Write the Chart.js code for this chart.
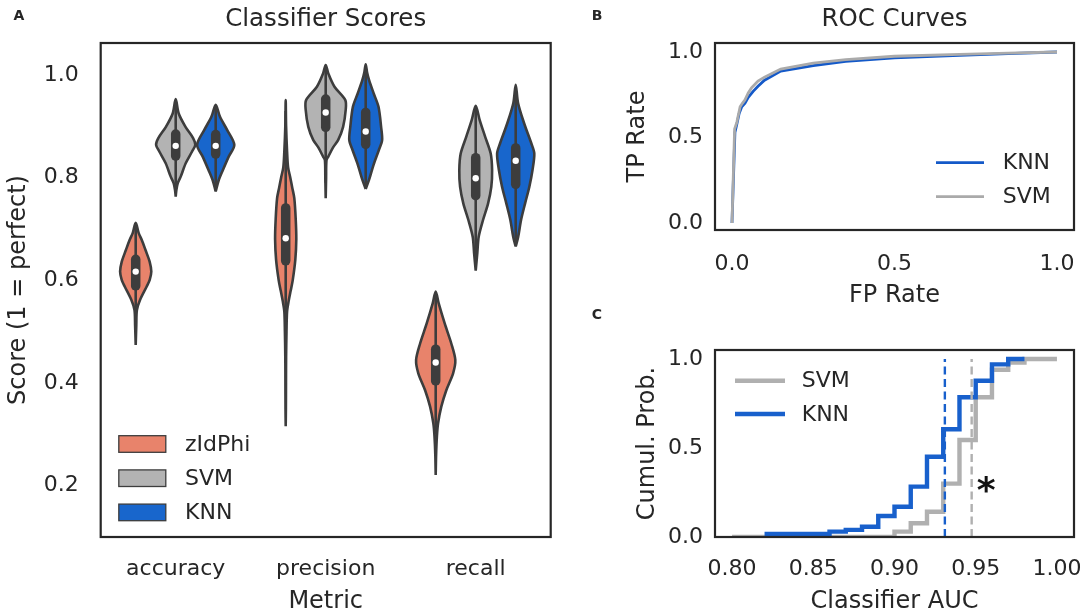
<!DOCTYPE html>
<html>
<head>
<meta charset="utf-8">
<script src="https://cdn.jsdelivr.net/npm/chart.js@4.4.1/dist/chart.umd.min.js"></script>
<style>
  html, body { margin: 0; padding: 0; background: #fff; }
  #wrap { position: relative; width: 1084px; height: 614px; }
  #wrap canvas { position: absolute; left: 0; top: 0; }
</style>
</head>
<body>
<div id="wrap">
  <canvas id="violinChart" width="1084" height="614"></canvas>
  <canvas id="rocChart" width="1084" height="614"></canvas>
  <canvas id="cdfChart" width="1084" height="614"></canvas>
</div>
<script>
/* ---------------- DATA ---------------- */

const metrics = ["accuracy", "precision", "recall"];
const classifiers = ["zIdPhi", "SVM", "KNN"];
const scoreTicks = [0.2, 0.4, 0.6, 0.8, 1.0];

// violin outlines: score levels and relative density (1 = widest violin)
const accZidScore = [0.474, 0.513, 0.542, 0.562, 0.588, 0.601, 0.617, 0.636, 0.659, 0.679, 0.692, 0.712];
const accZidDens  = [0, 0.03, 0.06, 0.22, 0.55, 0.70, 0.78, 0.70, 0.49, 0.30, 0.15, 0];
const accSvmScore = [0.763, 0.775, 0.789, 0.802, 0.828, 0.851, 0.864, 0.877, 0.899, 0.925, 0.953];
const accSvmDens  = [0, 0.03, 0.10, 0.25, 0.50, 0.82, 0.98, 0.87, 0.49, 0.15, 0];
const accKnnScore = [0.773, 0.795, 0.815, 0.841, 0.864, 0.893, 0.919, 0.942];
const accKnnDens  = [0, 0.15, 0.36, 0.65, 0.93, 0.57, 0.21, 0];

const preZidScore = [0.316, 0.35, 0.40, 0.45, 0.50, 0.54, 0.56, 0.58, 0.60, 0.64, 0.68, 0.72, 0.76, 0.78, 0.80, 0.82, 0.85, 0.90, 0.951];
const preZidDens  = [0, 0.01, 0.015, 0.02, 0.04, 0.07, 0.15, 0.25, 0.35, 0.48, 0.53, 0.50, 0.43, 0.33, 0.23, 0.12, 0.07, 0.02, 0];
const preSvmScore = [0.760, 0.80, 0.834, 0.841, 0.859, 0.873, 0.899, 0.932, 0.951, 0.977, 1.003, 1.0195];
const preSvmDens  = [0, 0.02, 0.04, 0.13, 0.37, 0.62, 0.87, 1.0, 0.98, 0.44, 0.13, 0];
const preKnnScore = [0.778, 0.796, 0.826, 0.853, 0.873, 0.899, 0.938, 0.964, 0.990, 1.005, 1.021];
const preKnnDens  = [0, 0.17, 0.40, 0.65, 0.82, 0.77, 0.64, 0.40, 0.17, 0.07, 0];

const recZidScore = [0.221, 0.26, 0.296, 0.322, 0.354, 0.386, 0.419, 0.445, 0.477, 0.516, 0.555, 0.578];
const recZidDens  = [0, 0.02, 0.06, 0.12, 0.28, 0.53, 0.87, 0.98, 0.78, 0.45, 0.15, 0];
const recSvmScore = [0.619, 0.653, 0.685, 0.718, 0.750, 0.782, 0.815, 0.847, 0.880, 0.912, 0.940];
const recSvmDens  = [0, 0.08, 0.15, 0.37, 0.62, 0.78, 0.82, 0.75, 0.47, 0.20, 0];
const recKnnScore = [0.666, 0.684, 0.718, 0.750, 0.782, 0.815, 0.847, 0.867, 0.906, 0.945, 0.981];
const recKnnDens  = [0, 0.12, 0.27, 0.47, 0.68, 0.84, 0.93, 0.78, 0.42, 0.12, 0];

// inner box: q1, median, q3, whisker low, whisker high
const accZidBox = [0.581, 0.617, 0.649, 0.52, 0.71];
const accSvmBox = [0.834, 0.862, 0.893, 0.78, 0.95];
const accKnnBox = [0.838, 0.862, 0.892, 0.775, 0.94];
const preZidBox = [0.630, 0.682, 0.749, 0.46, 0.93];
const preSvmBox = [0.890, 0.927, 0.961, 0.79, 1.015];
const preKnnBox = [0.857, 0.890, 0.935, 0.78, 1.015];
const recZidBox = [0.396, 0.440, 0.474, 0.30, 0.575];
const recSvmBox = [0.757, 0.799, 0.847, 0.63, 0.935];
const recKnnBox = [0.779, 0.833, 0.866, 0.67, 0.975];

// ROC curves
const rocTicks = [0, 0.5, 1.0];
const fprKnn = [0, 0.009, 0.014, 0.022, 0.03, 0.04, 0.05, 0.065, 0.08, 0.10, 0.15, 0.25, 0.35, 0.5, 0.7, 0.85, 1.0];
const tprKnn = [0, 0.53, 0.57, 0.64, 0.68, 0.70, 0.735, 0.77, 0.80, 0.835, 0.888, 0.92, 0.945, 0.966, 0.98, 0.99, 1.0];
const fprSvm = [0, 0.008, 0.015, 0.025, 0.032, 0.04, 0.05, 0.06, 0.08, 0.10, 0.15, 0.25, 0.35, 0.5, 0.7, 0.85, 1.0];
const tprSvm = [0, 0.55, 0.59, 0.68, 0.70, 0.72, 0.76, 0.79, 0.83, 0.853, 0.90, 0.935, 0.955, 0.975, 0.986, 0.993, 1.0];

// cumulative distribution of classifier AUC
const aucTicks = [0.80, 0.85, 0.90, 0.95, 1.00];
const cdfTicks = [0, 0.5, 1.0];
const aucSvm = [0.80, 0.90, 0.91, 0.92, 0.93, 0.94, 0.95, 0.96, 0.97, 0.98, 1.00];
const cumSvm = [0, 0.03, 0.077, 0.142, 0.30, 0.545, 0.785, 0.94, 0.98, 1.0, 1.0];
const aucKnn = [0.82, 0.86, 0.87, 0.88, 0.89, 0.90, 0.91, 0.92, 0.93, 0.94, 0.95, 0.96, 0.97, 0.98];
const cumKnn = [0.017, 0.03, 0.04, 0.058, 0.118, 0.17, 0.283, 0.451, 0.605, 0.785, 0.878, 0.970, 1.0, 1.0];
const medianAuc = [0.9475, 0.931]; // SVM, KNN

/* ---------------- STYLE ---------------- */

const ink = "#262626";
const edge = "#3d3d3d";
const hueColors = ["#e8836b", "#b3b3b3", "#1866cc"];
const rocKnnColor = "#1459c8";
const rocSvmColor = "#aaaaaa";
const cdfKnnColor = "#1860cc";
const cdfSvmColor = "#b0b0b0";

Chart.defaults.font.family = "'DejaVu Sans', sans-serif";
Chart.defaults.color = ink;

function fixedTicks(values) {
  return (scale) => { scale.ticks = values.map((v) => ({ value: v })); };
}

// pin an axis to a fixed size and drop the label overhang padding
function pinX(h) {
  return (s) => { s.height = h; s.paddingLeft = 0; s.paddingRight = 0; };
}
function pinY(w) {
  return (s) => { s.width = w; s.paddingTop = 0; s.paddingBottom = 0; };
}

function decor(opts) {
  return {
    id: "decor",
    afterDraw(chart) {
      const ctx = chart.ctx;
      const a = chart.chartArea;
      ctx.save();
      ctx.strokeStyle = ink;
      ctx.lineWidth = 2.2;
      ctx.strokeRect(a.left, a.top, a.right - a.left, a.bottom - a.top);
      ctx.fillStyle = ink;
      ctx.textAlign = "center";
      ctx.textBaseline = "middle";
      if (opts.title) {
        ctx.font = "24.5px 'DejaVu Sans'";
        ctx.fillText(opts.title, (a.left + a.right) / 2, opts.titleY);
      }
      ctx.font = "bold 14px 'DejaVu Sans'";
      ctx.fillText(opts.letter, opts.letterX, opts.letterY);
      if (opts.extra) opts.extra(ctx, chart);
      ctx.restore();
    },
  };
}

/* ---------------- A: VIOLINS ---------------- */

const hueStep = 0.8 / 3;
const violinHalf = hueStep / 2;
const capInset = 0.008;

const violins = [
  [0, 0, accZidScore, accZidDens, accZidBox],
  [0, 1, accSvmScore, accSvmDens, accSvmBox],
  [0, 2, accKnnScore, accKnnDens, accKnnBox],
  [1, 0, preZidScore, preZidDens, preZidBox],
  [1, 1, preSvmScore, preSvmDens, preSvmBox],
  [1, 2, preKnnScore, preKnnDens, preKnnBox],
  [2, 0, recZidScore, recZidDens, recZidBox],
  [2, 1, recSvmScore, recSvmDens, recSvmBox],
  [2, 2, recKnnScore, recKnnDens, recKnnBox],
];

const violinSets = [];
violins.forEach(([m, h, score, dens, box]) => {
  const cx = m + (h - 1) * hueStep;
  const right = score.map((s, i) => ({ x: cx + dens[i] * violinHalf, y: s }));
  const left = score.map((s, i) => ({ x: cx - dens[i] * violinHalf, y: s })).reverse();
  violinSets.push({
    data: right.slice(0, -1).concat(left),
    showLine: true, fill: "shape", tension: 0.3,
    backgroundColor: hueColors[h], borderColor: edge, borderWidth: 2.6,
    pointRadius: 0, pointHoverRadius: 0, order: 3,
  });
  violinSets.push({
    data: [{ x: cx, y: box[3] }, { x: cx, y: box[4] }],
    showLine: true, borderColor: edge, borderWidth: 2.6,
    pointRadius: 0, pointHoverRadius: 0, order: 2,
  });
  violinSets.push({
    data: [{ x: cx, y: box[0] + capInset }, { x: cx, y: box[2] - capInset }],
    showLine: true, borderColor: edge, borderWidth: 9.5, borderCapStyle: "round",
    pointRadius: 0, pointHoverRadius: 0, order: 1,
  });
  violinSets.push({
    data: [{ x: cx, y: box[1] }],
    showLine: false, pointRadius: 3.2, pointHoverRadius: 3.2,
    backgroundColor: "#ffffff", borderWidth: 0, order: 0,
  });
});

new Chart(document.getElementById("violinChart"), {
  type: "scatter",
  data: { datasets: violinSets },
  options: {
    responsive: false, animation: false, events: [],
    layout: { padding: { left: 3.7, right: 533.3, top: 43, bottom: 0 } },
    plugins: { legend: { display: false }, tooltip: { enabled: false } },
    scales: {
      x: {
        type: "linear", min: -0.5, max: 2.5,
        grid: { display: false }, border: { display: false },
        afterBuildTicks: fixedTicks(metrics.map((m, i) => i)),
        afterFit: pinX(77),
        ticks: { callback: (v) => metrics[v], padding: 11, font: { size: 22 }, maxRotation: 0, autoSkip: false },
        title: { display: true, text: "Metric", font: { size: 24, lineHeight: 1 }, padding: { top: 0, bottom: 0.3 } },
      },
      y: {
        type: "linear", min: 0.1001, max: 1.0623,
        grid: { display: false }, border: { display: false },
        afterBuildTicks: fixedTicks(scoreTicks),
        afterFit: pinY(97),
        ticks: { callback: (v) => v.toFixed(1), padding: 14, font: { size: 22 } },
        title: { display: true, text: "Score (1 = perfect)", font: { size: 24, lineHeight: 1 }, padding: { top: 3, bottom: 0 } },
      },
    },
  },
  plugins: [decor({
    title: "Classifier Scores", titleY: 20, letter: "A", letterX: 19, letterY: 16,
    extra(ctx) {
      ctx.textAlign = "left";
      ctx.font = "22px 'DejaVu Sans'";
      classifiers.forEach((name, i) => {
        const yc = 444 + i * 34.2;
        ctx.fillStyle = hueColors[i];
        ctx.fillRect(118.8, yc - 8.3, 47, 16.6);
        ctx.strokeStyle = edge;
        ctx.lineWidth = 1.3;
        ctx.strokeRect(118.8, yc - 8.3, 47, 16.6);
        ctx.fillStyle = ink;
        ctx.fillText(name, 185, yc + 1);
      });
    },
  })],
});

/* ---------------- B: ROC ---------------- */

new Chart(document.getElementById("rocChart"), {
  type: "scatter",
  data: {
    datasets: [
      {
        label: "KNN", data: fprKnn.map((x, i) => ({ x, y: tprKnn[i] })),
        showLine: true, borderColor: rocKnnColor, borderWidth: 2.8, pointRadius: 0, pointHoverRadius: 0, order: 1,
      },
      {
        label: "SVM", data: fprSvm.map((x, i) => ({ x, y: tprSvm[i] })),
        showLine: true, borderColor: rocSvmColor, borderWidth: 2.8, pointRadius: 0, pointHoverRadius: 0, order: 0,
      },
    ],
  },
  options: {
    responsive: false, animation: false, events: [],
    layout: { padding: { left: 625, right: 10, top: 43, bottom: 304 } },
    plugins: { legend: { display: false }, tooltip: { enabled: false } },
    scales: {
      x: {
        type: "linear", min: -0.0523, max: 1.0523,
        grid: { display: false }, border: { display: false },
        afterBuildTicks: fixedTicks(rocTicks),
        afterFit: pinX(80),
        ticks: { callback: (v) => v.toFixed(1), padding: 13, font: { size: 22 }, maxRotation: 0 },
        title: { display: true, text: "FP Rate", font: { size: 24, lineHeight: 1 }, padding: { top: 0, bottom: 2.3 } },
      },
      y: {
        type: "linear", min: -0.041, max: 1.0526,
        grid: { display: false }, border: { display: false },
        afterBuildTicks: fixedTicks(rocTicks),
        afterFit: pinY(90),
        ticks: { callback: (v) => v.toFixed(1), padding: 4, font: { size: 22 } },
        title: { display: true, text: "TP Rate", font: { size: 24, lineHeight: 1 }, padding: { top: 0.3, bottom: 0 } },
      },
    },
  },
  plugins: [decor({
    title: "ROC Curves", titleY: 20, letter: "B", letterX: 597, letterY: 16,
    extra(ctx) {
      ctx.textAlign = "left";
      ctx.font = "22px 'DejaVu Sans'";
      [["KNN", rocKnnColor, 162.7], ["SVM", rocSvmColor, 196.7]].forEach(([name, col, yc]) => {
        ctx.strokeStyle = col;
        ctx.lineWidth = 2.8;
        ctx.beginPath();
        ctx.moveTo(936, yc);
        ctx.lineTo(984, yc);
        ctx.stroke();
        ctx.fillStyle = ink;
        ctx.fillText(name, 1002.7, yc + 1);
      });
    },
  })],
});

/* ---------------- C: CUMULATIVE AUC ---------------- */

new Chart(document.getElementById("cdfChart"), {
  type: "scatter",
  data: {
    datasets: [
      {
        label: "SVM", data: aucSvm.map((x, i) => ({ x, y: cumSvm[i] })),
        showLine: true, stepped: true, borderColor: cdfSvmColor, borderWidth: 4.4, pointRadius: 0, pointHoverRadius: 0, order: 3,
      },
      {
        label: "KNN", data: aucKnn.map((x, i) => ({ x, y: cumKnn[i] })),
        showLine: true, stepped: true, borderColor: cdfKnnColor, borderWidth: 4.4, pointRadius: 0, pointHoverRadius: 0, order: 2,
      },
      {
        data: [{ x: medianAuc[0], y: 0 }, { x: medianAuc[0], y: 1.0 }],
        showLine: true, borderColor: cdfSvmColor, borderWidth: 2.4, borderDash: [8, 4.5], pointRadius: 0, pointHoverRadius: 0, order: 1,
      },
      {
        data: [{ x: medianAuc[1], y: 0 }, { x: medianAuc[1], y: 1.0 }],
        showLine: true, borderColor: cdfKnnColor, borderWidth: 2.4, borderDash: [8, 4.5], pointRadius: 0, pointHoverRadius: 0, order: 0,
      },
    ],
  },
  options: {
    responsive: false, animation: false, events: [],
    layout: { padding: { left: 635, right: 10, top: 350, bottom: 0 } },
    plugins: { legend: { display: false }, tooltip: { enabled: false } },
    scales: {
      x: {
        type: "linear", min: 0.7895, max: 1.0105,
        grid: { display: false }, border: { display: false },
        afterBuildTicks: fixedTicks(aucTicks),
        afterFit: pinX(77),
        ticks: { callback: (v) => v.toFixed(2), padding: 11, font: { size: 22 }, maxRotation: 0, autoSkip: false },
        title: { display: true, text: "Classifier AUC", font: { size: 24, lineHeight: 1 }, padding: { top: 0, bottom: 0.3 } },
      },
      y: {
        type: "linear", min: 0, max: 1.0506,
        grid: { display: false }, border: { display: false },
        afterBuildTicks: fixedTicks(cdfTicks),
        afterFit: pinY(80),
        ticks: { callback: (v) => v.toFixed(1), padding: 4, font: { size: 22 } },
        title: { display: true, text: "Cumul. Prob.", font: { size: 24, lineHeight: 1 }, padding: { top: 1, bottom: 0 } },
      },
    },
  },
  plugins: [decor({
    letter: "C", letterX: 597, letterY: 315,
    extra(ctx, chart) {
      ctx.textAlign = "left";
      ctx.font = "22px 'DejaVu Sans'";
      [["SVM", cdfSvmColor, 380.7], ["KNN", cdfKnnColor, 414]].forEach(([name, col, yc]) => {
        ctx.strokeStyle = col;
        ctx.lineWidth = 4.4;
        ctx.beginPath();
        ctx.moveTo(735, yc);
        ctx.lineTo(785, yc);
        ctx.stroke();
        ctx.fillStyle = ink;
        ctx.fillText(name, 801.7, yc + 1);
      });
      // significance mark
      ctx.fillStyle = "#111";
      ctx.textAlign = "center";
      ctx.font = "bold 36px 'DejaVu Sans'";
      ctx.fillText("*", chart.scales.x.getPixelForValue(0.9565), chart.scales.y.getPixelForValue(0.25));
    },
  })],
});
</script>
</body>
</html>
